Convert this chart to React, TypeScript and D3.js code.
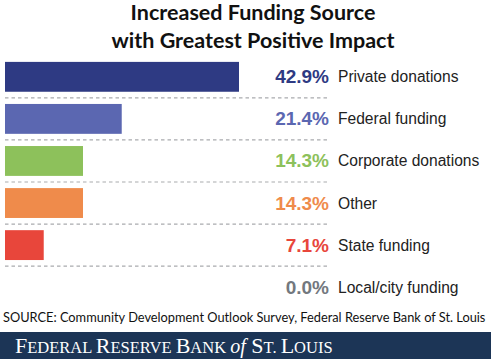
import React, { useEffect, useRef } from 'react';
import * as d3 from 'd3';

const categories = [
  'Private donations',
  'Federal funding',
  'Corporate donations',
  'Other',
  'State funding',
  'Local/city funding',
];
const values = [42.9, 21.4, 14.3, 14.3, 7.1, 0.0];
const colors = ['#2E3A83', '#5B67B1', '#8DC15B', '#EF8B4B', '#E8463B', '#73787E'];
const titleLines = ['Increased Funding Source', 'with Greatest Positive Impact'];
const sourceText = 'SOURCE: Community Development Outlook Survey, Federal Reserve Bank of St. Louis';

const App: React.FC = () => {
  const svgRef = useRef<SVGSVGElement>(null);

  useEffect(() => {
    if (!svgRef.current) return;
    const svg = d3.select(svgRef.current);
    svg.selectAll('*').remove();

    const width = 491;
    const height = 359;

    svg.append('rect').attr('width', width).attr('height', height).attr('fill', '#fff');

    // Title
    svg.append('g')
      .selectAll('text')
      .data(titleLines)
      .join('text')
      .attr('x', 253)
      .attr('y', (_, i) => 19.5 + i * 28.5)
      .attr('text-anchor', 'middle')
      .style('font-family', 'Lato, "Open Sans", sans-serif')
      .style('font-weight', 700)
      .style('font-size', '21.5px')
      .style('fill', '#111')
      .text(d => d);

    const x = d3.scaleLinear().domain([0, 42.9]).range([5, 239]);
    const y = d3.scaleBand<string>()
      .domain(categories)
      .range([56, 308])
      .paddingInner(0.29)
      .paddingOuter(0.14);

    const rows = categories.map((c, i) => ({ c, v: values[i], col: colors[i] }));

    // Dashed separators between rows
    const step = y.step();
    const sepY = (d: string) => (y(d) ?? 0) + y.bandwidth() + (step - y.bandwidth()) / 2;
    svg.append('g')
      .selectAll('line')
      .data(categories.slice(0, -1))
      .join('line')
      .attr('x1', 5)
      .attr('x2', 330)
      .attr('y1', sepY)
      .attr('y2', sepY)
      .attr('stroke', '#a9abae')
      .attr('stroke-width', 1.2)
      .attr('stroke-dasharray', '3.5,3');

    // Bars
    svg.append('g')
      .selectAll('rect')
      .data(rows)
      .join('rect')
      .attr('x', x(0))
      .attr('y', d => y(d.c) ?? 0)
      .attr('width', d => x(d.v) - x(0))
      .attr('height', y.bandwidth())
      .attr('fill', d => d.col);

    // Values
    svg.append('g')
      .selectAll('text')
      .data(rows)
      .join('text')
      .attr('x', 329)
      .attr('y', d => (y(d.c) ?? 0) + y.bandwidth() / 2 + 6.5)
      .attr('text-anchor', 'end')
      .style('font-family', '"Liberation Sans", Arial, sans-serif')
      .style('font-weight', 700)
      .style('font-size', '19px')
      .style('fill', d => d.col)
      .text(d => `${d.v.toFixed(1)}%`);

    // Category labels
    svg.append('g')
      .selectAll('text')
      .data(rows)
      .join('text')
      .attr('x', 338)
      .attr('y', d => (y(d.c) ?? 0) + y.bandwidth() / 2 + 5.5)
      .style('font-family', '"Liberation Sans", Arial, sans-serif')
      .style('font-size', '15.6px')
      .style('fill', '#222')
      .text(d => d.c);

    // Source
    svg.append('text')
      .attr('x', 3)
      .attr('y', 322)
      .style('font-family', 'Lato, "Open Sans", sans-serif')
      .style('font-size', '12.8px')
      .style('fill', '#111')
      .text(sourceText);

    // Footer band
    svg.append('rect')
      .attr('x', 0)
      .attr('y', 332)
      .attr('width', width)
      .attr('height', height - 332)
      .attr('fill', '#1C3556');

    const footer = svg.append('text')
      .attr('x', 15)
      .attr('y', 353)
      .style('font-family', '"Liberation Serif", "DejaVu Serif", serif')
      .style('fill', '#fff');
    const parts: [string, number, boolean][] = [
      ['F', 22, false], ['EDERAL ', 16.5, false],
      ['R', 22, false], ['ESERVE ', 16.5, false],
      ['B', 22, false], ['ANK ', 16.5, false],
      ['of', 20, true], [' S', 22, false], ['T', 16.5, false], ['. ', 16.5, false],
      ['L', 22, false], ['OUIS', 16.5, false],
    ];
    parts.forEach(([t, s, it]) => {
      footer.append('tspan')
        .style('font-size', `${s}px`)
        .style('font-style', it ? 'italic' : 'normal')
        .text(t);
    });
  }, []);

  return (
    <div style={{ position: 'absolute', left: 0, top: 0 }}>
      <svg ref={svgRef} width={491} height={359} style={{ display: 'block' }} />
    </div>
  );
};

export default App;
